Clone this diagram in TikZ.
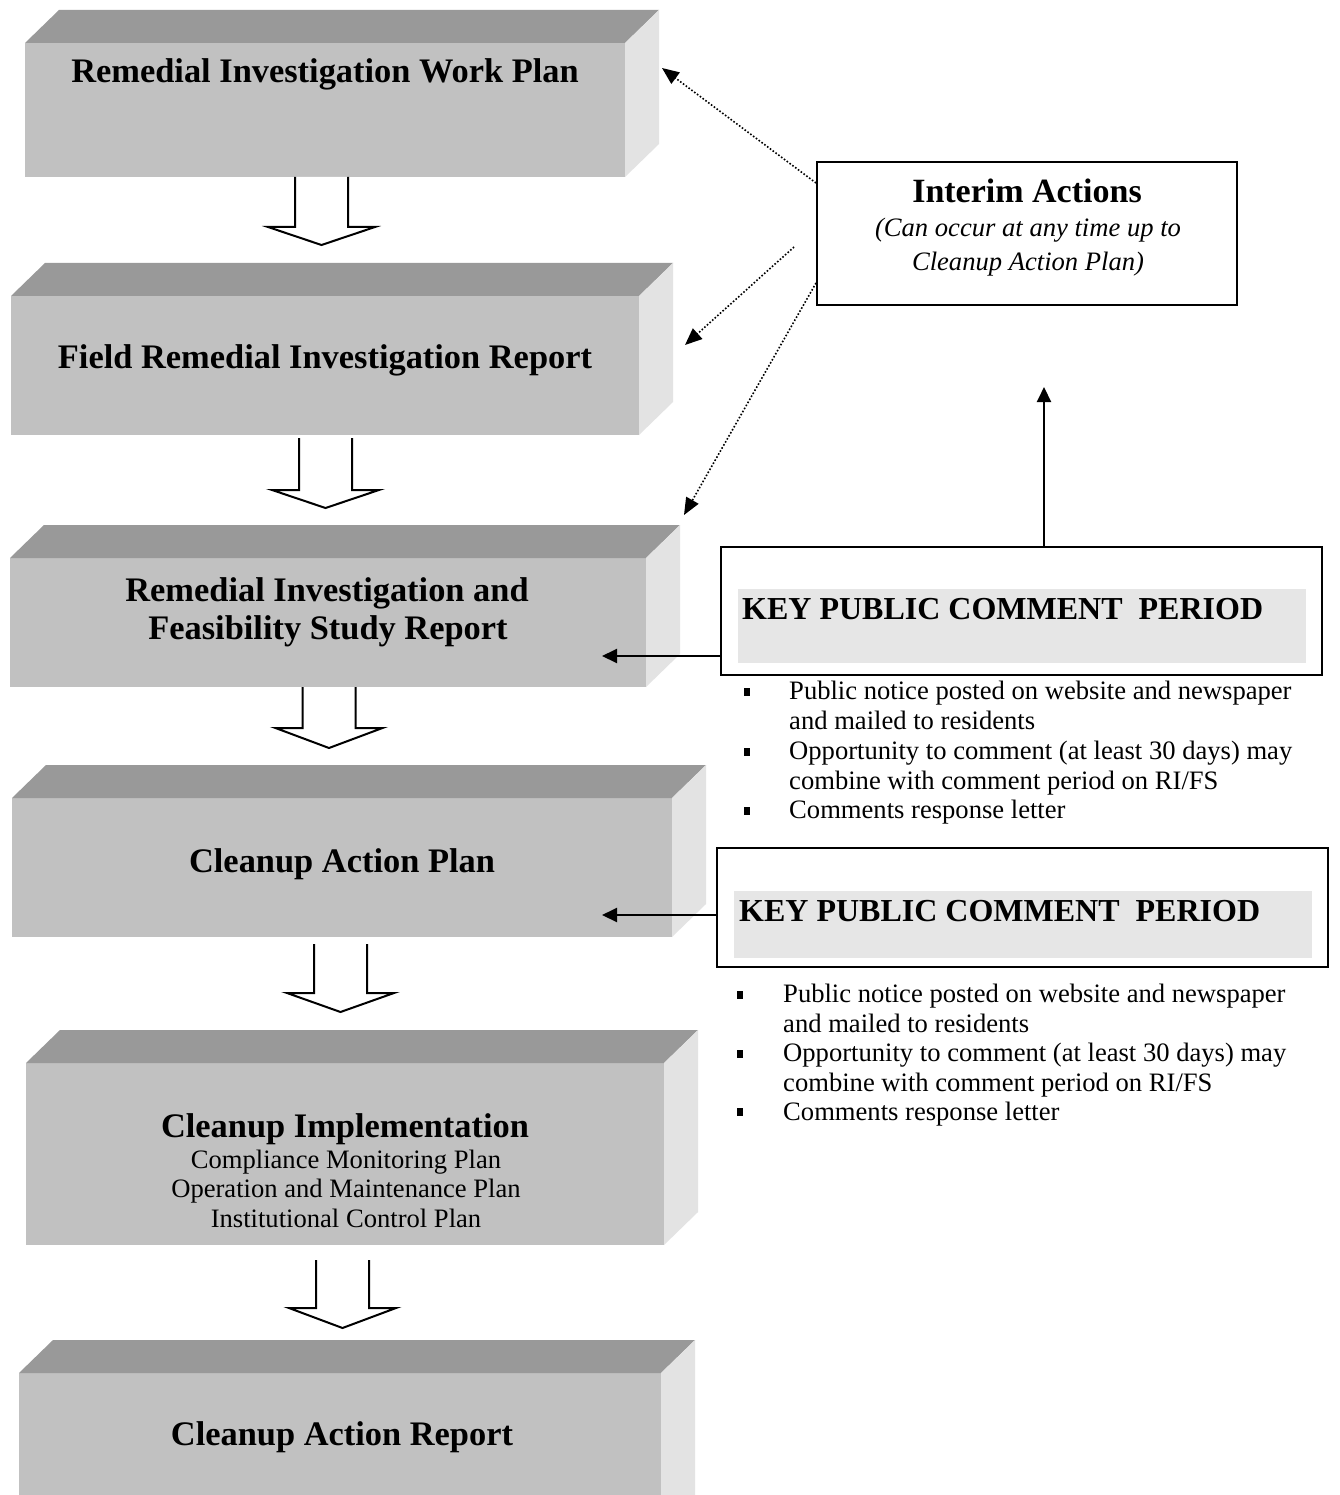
\documentclass[tikz,border=0pt]{standalone}
\usepackage{fontspec}
\setmainfont{Liberation Serif}
\usetikzlibrary{arrows.meta,calc}
\definecolor{topc}{RGB}{153,153,153}
\definecolor{frontc}{RGB}{193,193,193}
\definecolor{sidec}{RGB}{227,227,227}
\definecolor{keyfill}{RGB}{230,230,230}
\newcommand{\boxthree}[5]{%
  \node[frontface, minimum width={#4-#2}, minimum height={#5-#3}] (#1) at ({(#2+#4)/2},{(#3+#5)/2}) {};
  \fill[topc] (#1.north west) -- ++(34,-33) -- ([xshift=34pt,yshift=33pt]#1.north east) -- (#1.north east) -- cycle;
  \fill[sidec] (#1.north east) -- ([xshift=34pt,yshift=33pt]#1.north east) -- ([xshift=34pt,yshift=33pt]#1.south east) -- (#1.south east) -- cycle;
}
\newcommand{\blkarrow}[5]{%
  \coordinate (#1) at (#2,#5);
  \draw[blockarr] ($(#1)+(-26.5,#3-#5)$) -- ($(#1)+(-26.5,#4-#5)$) -- ($(#1)+(-53.5,#4-#5)$) -- (#1) -- ($(#1)+(53.5,#4-#5)$) -- ($(#1)+(26.5,#4-#5)$) -- ($(#1)+(26.5,#3-#5)$);
}
\begin{document}
\begin{tikzpicture}[x=1pt,y=-1pt,
  frontface/.style={fill=frontc, inner sep=0, outer sep=0},
  title/.style={font=\fontsize{34.4}{38}\selectfont\bfseries, anchor=base, inner sep=0},
  body/.style={font=\fontsize{26.6}{30}\selectfont, inner sep=0},
  blockarr/.style={draw=black, fill=white, line width=2pt, miter limit=10},
  dotarr/.style={line width=1.6pt, dash pattern=on 1.6pt off 1.9pt, -{Triangle[length=17pt,width=14pt]}},
  solidarr/.style={line width=2pt, -{Triangle[length=15pt,width=14pt]}},
  keybox/.style={draw, line width=2.2pt, inner sep=0, outer sep=0},
  bul/.style={fill=black, minimum width=6.5pt, minimum height=8pt, inner sep=0, outer sep=0},
  item/.style={body, anchor=base west, align=left}]
\useasboundingbox (0,0) rectangle (1339,1495);
\fill[white] (0,0) rectangle (1339,1495);

% 3D boxes
\boxthree{b1}{25}{43}{625}{177}
\boxthree{b2}{11}{296}{639}{435}
\boxthree{b3}{10}{558}{646}{687}
\boxthree{b4}{12}{798}{672}{937}
\boxthree{b5}{26}{1063}{664}{1245}
\boxthree{b6}{19}{1373}{661}{1530}

\node[title] (t1) at (325,83) {Remedial Investigation Work Plan};
\node[title] (t2) at (325,368) {Field Remedial Investigation Report};
\node[title] (t3a) at (327,601) {Remedial Investigation and};
\node[title] (t3b) at (328,639) {Feasibility Study Report};
\node[title] (t4) at (342,872) {Cleanup Action Plan};
\node[title] (t5) at (345,1137) {Cleanup Implementation};
\node[body, anchor=base] (t5a) at (346,1168) {Compliance Monitoring Plan};
\node[body, anchor=base] (t5b) at (346,1197) {Operation and Maintenance Plan};
\node[body, anchor=base] (t5c) at (346,1227) {Institutional Control Plan};
\node[title] (t6) at (342,1445) {Cleanup Action Report};

% block arrows
\blkarrow{a1}{321.5}{177}{227}{245}
\blkarrow{a2}{325.5}{438}{490}{508}
\blkarrow{a3}{329}{687}{728}{748}
\blkarrow{a4}{340.5}{944}{993}{1012}
\blkarrow{a5}{342.5}{1260}{1308}{1328}

% interim actions
\node[keybox, minimum width=420pt, minimum height=143pt] (ia) at (1027,233.5) {};
\node[font=\fontsize{34}{38}\selectfont\bfseries, anchor=base, inner sep=0] (iat) at (1027,203) {Interim Actions};
\node[body, anchor=base, font=\fontsize{26.6}{30}\selectfont\itshape] (iaa) at (1028,237) {(Can occur at any time up to};
\node[body, anchor=base, font=\fontsize{26.6}{30}\selectfont\itshape] (iab) at (1028,271) {Cleanup Action Plan)};

\coordinate (d1t) at (662,68);
\coordinate (d2s) at (794,247);
\coordinate (d2t) at (685,345);
\coordinate (d3t) at (684,515);
\draw[dotarr] ($(ia.north west)+(-1,21)$) -- (d1t);
\draw[dotarr] (d2s) -- (d2t);
\draw[dotarr] ($(ia.north west)+(-1,121)$) -- (d3t);

% key box 1
\node[fill=keyfill, inner sep=0, minimum width=568pt, minimum height=74pt] (kg1) at (1022,626) {};
\node[keybox, minimum width=601pt, minimum height=128pt] (kb1) at (1021.5,611) {};
\node[font=\fontsize{32}{36}\selectfont\bfseries, anchor=base west, inner sep=0] (kt1) at (742,619) {KEY PUBLIC COMMENT\ \ PERIOD};
\coordinate (k1t) at (602,656);
\draw[solidarr] (kb1.west |- k1t) -- (k1t);
\coordinate (vt) at (1044,387);
\draw[solidarr] (kb1.north -| vt) -- (vt);

\node[bul] (p1) at (747,692) {};
\node[bul] (p2) at (747,752) {};
\node[bul] (p3) at (747,811) {};
\node[item] (i1) at (789,729) {Public notice posted on website and newspaper\\and mailed to residents};
\node[item] (i2) at (789,789) {Opportunity to comment (at least 30 days) may\\combine with comment period on RI/FS};
\node[item] (i3) at (789,818) {Comments response letter};

% key box 2
\node[fill=keyfill, inner sep=0, minimum width=578pt, minimum height=67pt] (kg2) at (1023,924.5) {};
\node[keybox, minimum width=611pt, minimum height=119pt] (kb2) at (1022.5,907.5) {};
\node[font=\fontsize{32}{36}\selectfont\bfseries, anchor=base west, inner sep=0] (kt2) at (739,921) {KEY PUBLIC COMMENT\ \ PERIOD};
\coordinate (k2t) at (602,915);
\draw[solidarr] (kb2.west |- k2t) -- (k2t);

\node[bul] (q1) at (740,995) {};
\node[bul] (q2) at (740,1054) {};
\node[bul] (q3) at (740,1112) {};
\node[item] (j1) at (783,1032) {Public notice posted on website and newspaper\\and mailed to residents};
\node[item] (j2) at (783,1091) {Opportunity to comment (at least 30 days) may\\combine with comment period on RI/FS};
\node[item] (j3) at (783,1120) {Comments response letter};
\end{tikzpicture}
\end{document}
